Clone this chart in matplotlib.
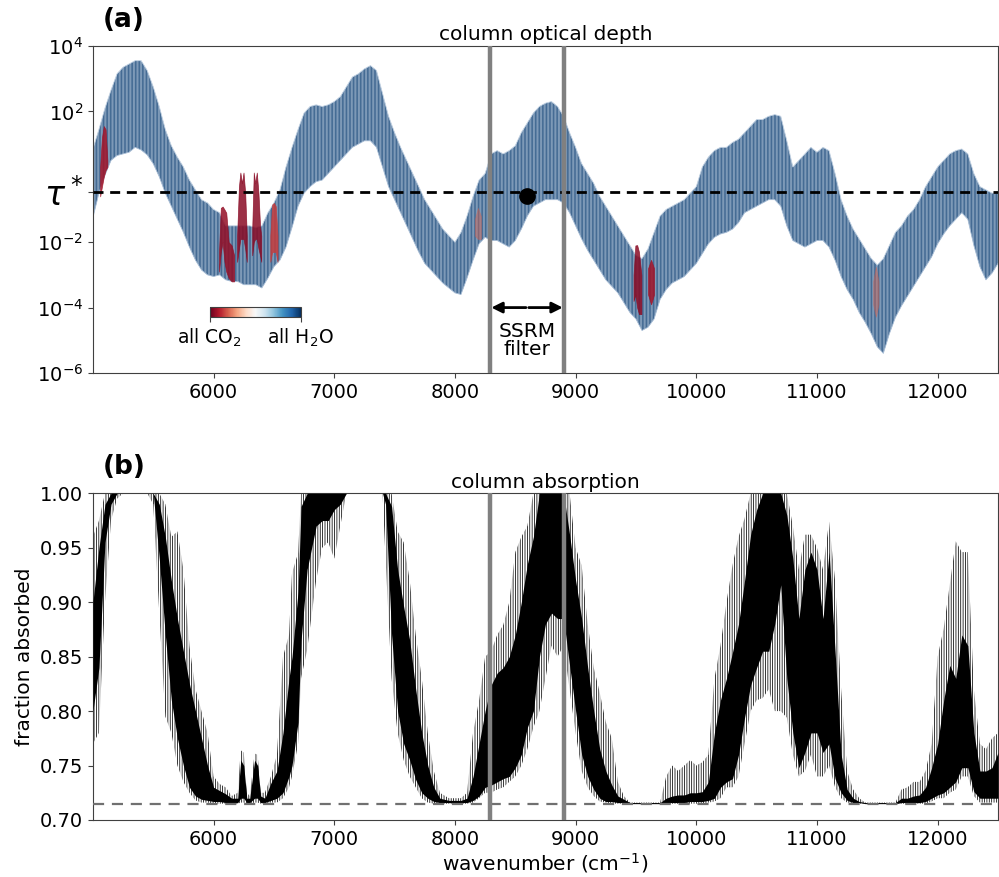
import numpy as np
import matplotlib
matplotlib.use("Agg")
import matplotlib.pyplot as plt
from matplotlib.ticker import NullLocator
from matplotlib.cm import ScalarMappable
from matplotlib.colors import Normalize

# ---------------- data ----------------
tau_star = 0.35
ssrm_lo, ssrm_hi = 8290, 8905
dot_wn, dot_tau = 8600, 0.26

# panel (a): envelope of column optical depth, log10(tau)
tau_wn = list(range(5000, 12501, 50))
tau_hi = [0.85, 1.45, 2.1, 2.65, 3.15, 3.35, 3.45, 3.55, 3.55, 3.25,
          2.75, 2.15, 1.45, 0.95, 0.6, 0.3, -0.1, -0.4, -0.7, -0.8,
          -1.0, -1.1, -1.5, -1.5, -1.5, -1.5, -1.5, -1.55, -1.5, -1.1,
          -0.8, -0.4, 0.3, 0.9, 1.45, 1.95, 2.15, 2.2, 2.15, 2.2,
          2.3, 2.45, 2.75, 3.05, 3.15, 3.3, 3.4, 3.25, 2.55, 1.85,
          1.35, 0.9, 0.5, 0.1, -0.3, -0.7, -1.0, -1.3, -1.6, -1.8,
          -2.0, -1.7, -1.2, -0.6, -0.1, 0.1, 0.7, 0.8, 0.7, 0.8,
          0.95, 1.35, 1.65, 1.95, 2.15, 2.25, 2.3, 2.15, 1.85, 1.35,
          0.9, 0.4, 0.1, -0.2, -0.6, -0.9, -1.2, -1.5, -1.8, -2.1,
          -2.4, -2.5, -2.2, -1.7, -1.2, -1.0, -0.9, -0.8, -0.7, -0.5,
          -0.3, 0.3, 0.6, 0.8, 0.9, 0.9, 1.05, 1.15, 1.35, 1.55,
          1.75, 1.75, 1.85, 1.9, 1.85, 1.1, 0.3, 0.5, 0.7, 0.9,
          0.75, 0.9, 0.8, 0.1, -0.7, -1.2, -1.6, -1.9, -2.2, -2.5,
          -2.7, -2.5, -2.1, -1.7, -1.5, -1.2, -1.0, -0.7, -0.3, 0.0,
          0.3, 0.5, 0.7, 0.8, 0.85, 0.7, 0.1, -0.3, -0.4, -0.5,
          -0.5]
tau_lo = [-1.25, -0.5, 0.05, 0.5, 0.65, 0.7, 0.75, 0.9, 0.82, 0.67,
          0.4, 0.0, -0.5, -0.9, -1.3, -1.7, -2.15, -2.55, -2.85, -3.0,
          -3.05, -3.0, -3.15, -3.2, -3.2, -3.3, -3.3, -3.3, -3.4, -3.1,
          -2.75, -2.55, -2.15, -1.55, -0.9, -0.5, -0.3, -0.15, -0.1, 0.1,
          0.3, 0.5, 0.7, 0.9, 1.0, 1.1, 1.1, 0.9, 0.3, -0.3,
          -0.7, -1.1, -1.5, -1.9, -2.3, -2.65, -2.85, -3.05, -3.25, -3.4,
          -3.55, -3.6, -3.1, -2.55, -2.05, -1.85, -1.95, -1.95, -2.05, -2.15,
          -1.95, -1.6, -1.2, -0.9, -0.8, -0.7, -0.7, -0.7, -0.8, -1.1,
          -1.5, -1.9, -2.25, -2.55, -2.85, -3.15, -3.35, -3.55, -3.85, -4.15,
          -4.35, -4.7, -4.6, -4.35, -3.75, -3.45, -3.25, -3.15, -3.05, -2.85,
          -2.65, -2.35, -2.05, -1.85, -1.75, -1.7, -1.6, -1.4, -1.1, -1.0,
          -0.9, -0.8, -0.7, -0.7, -0.9, -1.5, -1.95, -2.05, -2.15, -2.05,
          -1.95, -1.95, -2.15, -2.55, -3.05, -3.45, -3.75, -4.15, -4.45, -4.8,
          -5.2, -5.4, -4.8, -4.3, -3.95, -3.65, -3.35, -3.05, -2.75, -2.45,
          -2.05, -1.75, -1.5, -1.3, -1.1, -1.3, -2.1, -2.75, -3.15, -2.95,
          -2.65]

# CO2-dominated features (band id, wavenumber, log10 tau hi/lo, H2O fraction)
co2_band = [0, 0, 0, 0, 0,
            1, 1, 1, 1, 1, 1, 1, 1,
            2, 2, 2, 2, 2, 2, 2,
            3, 3, 3, 3, 3, 3, 3,
            4, 4, 4, 4, 4,
            5, 5, 5,
            6, 6, 6, 6, 6,
            7, 7, 7,
            8, 8, 8]
co2_wn = [5060, 5075, 5090, 5105, 5120,
          6045, 6060, 6075, 6090, 6105, 6125, 6150, 6170,
          6195, 6210, 6222, 6235, 6248, 6262, 6275,
          6320, 6333, 6345, 6358, 6372, 6385, 6395,
          6470, 6485, 6500, 6515, 6530,
          8165, 8190, 8215,
          9480, 9495, 9510, 9525, 9545,
          9600, 9625, 9650,
          11465, 11488, 11510]
co2_hi = [0.3, 1.2, 1.55, 1.45, 0.5,
          -2.3, -0.95, -0.91, -1.0, -1.1, -2.0, -2.1, -2.4,
          -1.8, -0.3, 0.13, -0.2, 0.13, -0.5, -1.8,
          -1.6, 0.13, -0.2, 0.13, -0.5, -1.5, -1.8,
          -1.8, -0.85, -0.8, -0.9, -1.8,
          -1.3, -0.95, -1.2,
          -3.0, -2.1, -2.09, -2.3, -3.0,
          -2.8, -2.54, -2.8,
          -3.2, -2.75, -3.2]
co2_lo = [-0.6, -0.3, 0.0, 0.2, 0.3,
          -2.9, -2.3, -2.0, -2.6, -2.9, -3.1, -3.2, -3.2,
          -2.6, -2.2, -1.9, -1.9, -1.9, -2.2, -2.6,
          -2.4, -2.0, -1.9, -1.9, -2.2, -2.4, -2.6,
          -2.6, -2.3, -2.3, -2.3, -2.6,
          -1.8, -1.9, -1.9,
          -3.8, -3.6, -4.0, -4.2, -4.2,
          -3.6, -3.9, -3.6,
          -3.9, -4.28, -3.9]
co2_h2o_frac = [0.08, 0.06, 0.05, 0.05, 0.15, 0.2, 0.05, 0.08, 0.2]
co2_alpha = [0.85, 0.85, 0.85, 0.85, 0.85, 0.45, 0.85, 0.85, 0.45]

# panel (b): fraction absorbed, dense core and spike envelope
abs_wn = [5000, 5050, 5100, 5150, 5200, 5250, 5300, 5350, 5400, 5450,
          5500, 5550, 5600, 5650, 5700, 5750, 5800, 5850, 5900, 5950,
          6000, 6050, 6100, 6150, 6200, 6225, 6250, 6275, 6300, 6340,
          6365, 6390, 6425, 6475, 6525, 6575, 6625, 6650, 6700, 6725,
          6775, 6850, 6900, 6950, 7000, 7050, 7100, 7200, 7300, 7400,
          7425, 7475, 7525, 7575, 7625, 7675, 7725, 7775, 7825, 7875,
          7950, 8050, 8100, 8150, 8200, 8250, 8300, 8350, 8400, 8450,
          8500, 8550, 8600, 8650, 8700, 8750, 8800, 8850, 8900, 8950,
          9000, 9050, 9100, 9150, 9200, 9250, 9300, 9350, 9400, 9450,
          9550, 9700, 9750, 9800, 9850, 9900, 9950, 10000, 10050, 10100,
          10150, 10200, 10250, 10300, 10350, 10400, 10450, 10500, 10550, 10600,
          10650, 10700, 10750, 10800, 10850, 10900, 10950, 11000, 11050, 11100,
          11150, 11200, 11250, 11300, 11350, 11400, 11550, 11650, 11700, 11750,
          11800, 11850, 11900, 11950, 12000, 12050, 12100, 12150, 12200, 12250,
          12300, 12350, 12400, 12450, 12500]
abs_core_lo = [0.80, 0.84, 0.955, 0.99, 1.0, 1.0, 1.0, 1.0, 1.0, 1.0,
               1.0, 0.94, 0.87, 0.81, 0.775, 0.75, 0.73, 0.722, 0.719, 0.718,
               0.717, 0.717, 0.716, 0.716, 0.716, 0.72, 0.72, 0.716, 0.716, 0.72,
               0.72, 0.716, 0.716, 0.718, 0.72, 0.725, 0.74, 0.75, 0.79, 0.865,
               0.93, 0.97, 0.975, 0.975, 0.985, 0.99, 1.0, 1.0, 1.0, 1.0,
               0.99, 0.87, 0.80, 0.77, 0.755, 0.737, 0.725, 0.72, 0.717, 0.716,
               0.716, 0.716, 0.716, 0.718, 0.722, 0.73, 0.732, 0.735, 0.738, 0.74,
               0.748, 0.76, 0.785, 0.80, 0.85, 0.88, 0.89, 0.885, 0.885, 0.842,
               0.80, 0.76, 0.74, 0.728, 0.72, 0.717, 0.717, 0.716, 0.716, 0.715,
               0.715, 0.715, 0.716, 0.716, 0.716, 0.716, 0.717, 0.717, 0.717, 0.718,
               0.72, 0.73, 0.735, 0.738, 0.76, 0.794, 0.824, 0.84, 0.855, 0.855,
               0.88, 0.916, 0.83, 0.78, 0.748, 0.762, 0.78, 0.78, 0.762, 0.77,
               0.738, 0.725, 0.718, 0.716, 0.716, 0.715, 0.715, 0.715, 0.716, 0.716,
               0.716, 0.716, 0.717, 0.72, 0.723, 0.725, 0.73, 0.735, 0.748, 0.748,
               0.726, 0.72, 0.72, 0.72, 0.72]
abs_core_hi = [0.90, 0.95, 0.99, 1.0, 1.0, 1.0, 1.0, 1.0, 1.0, 1.0,
               1.0, 0.99, 0.96, 0.92, 0.885, 0.855, 0.825, 0.80, 0.775, 0.75,
               0.73, 0.727, 0.724, 0.72, 0.72, 0.755, 0.75, 0.72, 0.72, 0.755,
               0.75, 0.722, 0.72, 0.734, 0.745, 0.78, 0.83, 0.85, 0.91, 0.988,
               1.0, 1.0, 1.0, 1.0, 1.0, 1.0, 1.0, 1.0, 1.0, 1.0,
               1.0, 0.988, 0.93, 0.896, 0.865, 0.82, 0.78, 0.75, 0.73, 0.72,
               0.718, 0.718, 0.72, 0.74, 0.77, 0.80, 0.824, 0.835, 0.84, 0.85,
               0.87, 0.90, 0.935, 0.96, 1.0, 1.0, 1.0, 1.0, 1.0, 0.962,
               0.92, 0.885, 0.84, 0.80, 0.765, 0.745, 0.732, 0.722, 0.719, 0.716,
               0.716, 0.716, 0.72, 0.722, 0.723, 0.723, 0.725, 0.725, 0.726, 0.735,
               0.78, 0.81, 0.83, 0.854, 0.88, 0.92, 0.962, 0.985, 1.0, 1.0,
               1.0, 1.0, 0.98, 0.94, 0.885, 0.93, 0.946, 0.93, 0.885, 0.946,
               0.855, 0.76, 0.728, 0.72, 0.717, 0.716, 0.716, 0.716, 0.72, 0.72,
               0.722, 0.723, 0.73, 0.748, 0.77, 0.81, 0.842, 0.83, 0.87, 0.86,
               0.78, 0.745, 0.745, 0.748, 0.762]
abs_spike_lo = [0.77, 0.78, 0.90, 0.975, 0.995, 1.0, 1.0, 1.0, 1.0, 1.0,
                0.99, 0.89, 0.795, 0.78, 0.75, 0.735, 0.725, 0.718, 0.716, 0.716,
                0.715, 0.715, 0.715, 0.715, 0.715, 0.716, 0.716, 0.715, 0.715, 0.716,
                0.716, 0.715, 0.715, 0.716, 0.716, 0.72, 0.73, 0.74, 0.77, 0.83,
                0.856, 0.92, 0.95, 0.955, 0.94, 0.97, 1.0, 1.0, 1.0, 1.0,
                0.94, 0.83, 0.78, 0.755, 0.74, 0.73, 0.72, 0.716, 0.715, 0.715,
                0.715, 0.715, 0.715, 0.716, 0.72, 0.725, 0.725, 0.728, 0.73, 0.735,
                0.74, 0.75, 0.765, 0.785, 0.80, 0.83, 0.86, 0.85, 0.86, 0.82,
                0.78, 0.745, 0.73, 0.722, 0.717, 0.716, 0.715, 0.715, 0.715, 0.715,
                0.715, 0.715, 0.715, 0.715, 0.715, 0.715, 0.715, 0.715, 0.715, 0.716,
                0.717, 0.72, 0.73, 0.73, 0.74, 0.77, 0.80, 0.81, 0.812, 0.82,
                0.80, 0.80, 0.794, 0.76, 0.74, 0.745, 0.76, 0.74, 0.74, 0.75,
                0.73, 0.72, 0.716, 0.715, 0.715, 0.715, 0.715, 0.715, 0.715, 0.715,
                0.715, 0.715, 0.715, 0.717, 0.72, 0.72, 0.725, 0.728, 0.74, 0.74,
                0.722, 0.716, 0.716, 0.716, 0.716]
abs_spike_hi = [0.96, 0.975, 1.0, 1.0, 1.0, 1.0, 1.0, 1.0, 1.0, 1.0,
                1.0, 1.0, 0.99, 0.96, 0.965, 0.93, 0.86, 0.82, 0.80, 0.78,
                0.74, 0.733, 0.73, 0.722, 0.725, 0.764, 0.762, 0.725, 0.722, 0.761,
                0.76, 0.725, 0.725, 0.74, 0.76, 0.85, 0.87, 0.927, 0.945, 1.0,
                1.0, 1.0, 1.0, 1.0, 1.0, 1.0, 1.0, 1.0, 1.0, 1.0,
                1.0, 1.0, 0.965, 0.955, 0.92, 0.87, 0.83, 0.78, 0.745, 0.725,
                0.72, 0.72, 0.725, 0.78, 0.81, 0.85, 0.855, 0.87, 0.879, 0.90,
                0.946, 0.96, 0.97, 1.0, 1.0, 1.0, 1.0, 1.0, 1.0, 1.0,
                0.95, 0.934, 0.88, 0.84, 0.817, 0.79, 0.775, 0.735, 0.722, 0.716,
                0.716, 0.716, 0.74, 0.75, 0.745, 0.75, 0.755, 0.75, 0.753, 0.76,
                0.83, 0.86, 0.90, 0.934, 0.96, 0.977, 1.0, 1.0, 1.0, 1.0,
                1.0, 1.0, 1.0, 0.97, 0.93, 0.962, 0.962, 0.95, 0.93, 0.974,
                0.92, 0.82, 0.745, 0.728, 0.72, 0.716, 0.716, 0.716, 0.728, 0.73,
                0.735, 0.735, 0.745, 0.77, 0.85, 0.876, 0.916, 0.956, 0.946, 0.946,
                0.82, 0.77, 0.765, 0.775, 0.78]
abs_floor = 0.715

xticks = [6000, 7000, 8000, 9000, 10000, 11000, 12000]

# ---------------- figure ----------------
plt.rcParams['font.family'] = ['DejaVu Sans']
plt.rcParams['hatch.linewidth'] = 0.55
fig = plt.figure(figsize=(9.99, 8.77), dpi=100)
ax1 = fig.add_axes([0.093, 0.5747, 0.906, 0.3729])
ax2 = fig.add_axes([0.093, 0.065, 0.906, 0.3725])
cmap = plt.get_cmap('RdBu')
spine_c = '#404040'
fs = 14

# panel (a)
wn = np.array(tau_wn, float)
ax1.fill_between(wn, 10 ** np.array(tau_lo), 10 ** np.array(tau_hi),
                 facecolor='#b3c6da', edgecolor='#24507f', hatch='|' * 12,
                 linewidth=0, zorder=2)
ax1.plot(wn, 10 ** np.array(tau_hi), color='#c5d4e4', lw=0.6, zorder=2)
ax1.plot(wn, 10 ** np.array(tau_lo), color='#a9bed6', lw=0.6, zorder=2)

cb = np.array(co2_band)
cw = np.array(co2_wn, float)
ch = 10 ** np.array(co2_hi)
cl = 10 ** np.array(co2_lo)
for b in np.unique(cb):
    m = cb == b
    c = cmap(co2_h2o_frac[b])
    ax1.fill_between(cw[m], cl[m], ch[m], color=c, alpha=co2_alpha[b],
                     linewidth=0.5, zorder=3)

ax1.axhline(tau_star, color='k', ls='--', lw=2, dashes=(3.6, 2.4), zorder=4)
for xv in (ssrm_lo, ssrm_hi):
    ax1.axvline(xv, color='#808080', lw=3.2, zorder=5)
ax1.plot([dot_wn], [dot_tau], 'o', color='k', ms=11, zorder=6)
for xv in (ssrm_lo, ssrm_hi):
    ax1.annotate('', xy=(xv, 1e-4), xytext=(dot_wn, 1e-4),
                 arrowprops=dict(arrowstyle='-|>', color='k', lw=2,
                                 mutation_scale=16, shrinkA=1, shrinkB=1),
                 zorder=6)
ax1.text(dot_wn, 1.0e-5, 'SSRM\nfilter', ha='center', va='center',
         fontsize=14.5, linespacing=0.95)

ax1.set_yscale('log')
ax1.set_xlim(5000, 12500)
ax1.set_ylim(1e-6, 1e4)
ax1.set_yticks([1e4, 1e2, tau_star, 1e-2, 1e-4, 1e-6])
ax1.set_yticklabels(['$10^{4}$', '$10^{2}$', r'$\tau^*$', '$10^{-2}$',
                     '$10^{-4}$', '$10^{-6}$'])
ax1.yaxis.set_minor_locator(NullLocator())
ax1.set_xticks(xticks)
ax1.tick_params(labelsize=fs, color=spine_c)
ax1.get_yticklabels()[2].set_fontsize(24)
ax1.set_title('column optical depth', fontsize=14.5, pad=4)

# colour legend
cax = fig.add_axes([0.210, 0.6385, 0.091, 0.0114])
cbar = fig.colorbar(ScalarMappable(Normalize(0, 1), cmap), cax=cax,
                    orientation='horizontal', ticks=[0, 1])
cbar.ax.set_xticklabels(['all CO$_2$', 'all H$_2$O'])
cbar.ax.tick_params(labelsize=13.5, color=spine_c)
cbar.outline.set_edgecolor(spine_c)

# panel (b)
aw = np.array(abs_wn, float)
ax2.fill_between(aw, abs_spike_lo, abs_spike_hi, facecolor='none',
                 edgecolor='k', hatch='|' * 7, linewidth=0, zorder=2)
ax2.fill_between(aw, abs_core_lo, abs_core_hi, color='k', linewidth=0,
                 zorder=3)
ax2.axhline(abs_floor, color='#707070', ls='--', lw=1.6, dashes=(5, 3.5),
            zorder=4)
for xv in (ssrm_lo, ssrm_hi):
    ax2.axvline(xv, color='#808080', lw=3.2, zorder=5)
ax2.set_xlim(5000, 12500)
ax2.set_ylim(0.70, 1.00)
ax2.set_xticks(xticks)
ax2.set_yticks([0.70, 0.75, 0.80, 0.85, 0.90, 0.95, 1.00])
ax2.set_yticklabels(['0.70', '0.75', '0.80', '0.85', '0.90', '0.95', '1.00'])
ax2.tick_params(labelsize=fs, color=spine_c)
ax2.set_title('column absorption', fontsize=14.5, pad=4)
ax2.set_ylabel('fraction absorbed', fontsize=14.5)
ax2.set_xlabel('wavenumber (cm$^{-1}$)', fontsize=14.5, labelpad=2)

for ax in (ax1, ax2):
    for s in ax.spines.values():
        s.set_edgecolor(spine_c)

fig.text(0.103, 0.977, '(a)', fontsize=19, fontweight='bold', va='center')
fig.text(0.103, 0.468, '(b)', fontsize=19, fontweight='bold', va='center')

fig.savefig('out.png', dpi=100)
